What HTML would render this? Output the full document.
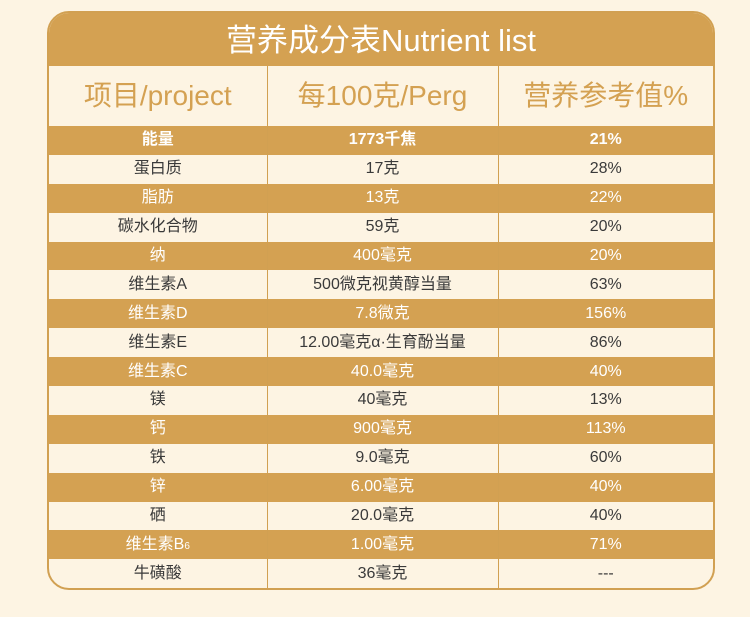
<!DOCTYPE html>
<html><head><meta charset="utf-8"><style>
body{margin:0;width:750px;height:617px;background:#fdf4e3;font-family:"Liberation Sans","Noto Sans CJK SC",sans-serif;overflow:hidden}
.box{position:absolute;left:47px;top:11px;width:664px;height:575px;border:2px solid #d1a052;border-radius:22px;overflow:hidden;background:#fdf4e3}
.title{height:53px;background:#d4a152;color:#fff;font-size:31px;text-align:center;line-height:56px}
table{border-collapse:collapse;width:100%;table-layout:fixed}
td{text-align:center;padding:0;font-size:16px;color:#3a3a3a;border-left:1px solid #d1a052;line-height:20px;vertical-align:middle}
td:first-child{border-left:none}
tr.h td{height:60px;font-size:28px;color:#d4a152;line-height:34px}
tr.r td{height:28.9px}
tr.g td{background:#d4a152;color:#fff}
tr.b td{font-weight:bold}
tr.last td{height:30px}
</style></head><body>
<div class="box">
<div class="title">营养成分表Nutrient list</div>
<table>
<col style="width:218px"><col style="width:231px"><col>
<tr class="h"><td>项目/project</td><td>每100克/Perg</td><td>营养参考值%</td></tr>
<tr class="r g b"><td>能量</td><td>1773千焦</td><td>21%</td></tr>
<tr class="r"><td>蛋白质</td><td>17克</td><td>28%</td></tr>
<tr class="r g"><td>脂肪</td><td>13克</td><td>22%</td></tr>
<tr class="r"><td>碳水化合物</td><td>59克</td><td>20%</td></tr>
<tr class="r g"><td>纳</td><td>400毫克</td><td>20%</td></tr>
<tr class="r"><td>维生素A</td><td>500微克视黄醇当量</td><td>63%</td></tr>
<tr class="r g"><td>维生素D</td><td>7.8微克</td><td>156%</td></tr>
<tr class="r"><td>维生素E</td><td>12.00毫克α·生育酚当量</td><td>86%</td></tr>
<tr class="r g"><td>维生素C</td><td>40.0毫克</td><td>40%</td></tr>
<tr class="r"><td>镁</td><td>40毫克</td><td>13%</td></tr>
<tr class="r g"><td>钙</td><td>900毫克</td><td>113%</td></tr>
<tr class="r"><td>铁</td><td>9.0毫克</td><td>60%</td></tr>
<tr class="r g"><td>锌</td><td>6.00毫克</td><td>40%</td></tr>
<tr class="r"><td>硒</td><td>20.0毫克</td><td>40%</td></tr>
<tr class="r g"><td>维生素B<span style="font-size:10px;line-height:10px">6</span></td><td>1.00毫克</td><td>71%</td></tr>
<tr class="r last"><td>牛磺酸</td><td>36毫克</td><td>---</td></tr>
</table>
</div>
</body></html>
